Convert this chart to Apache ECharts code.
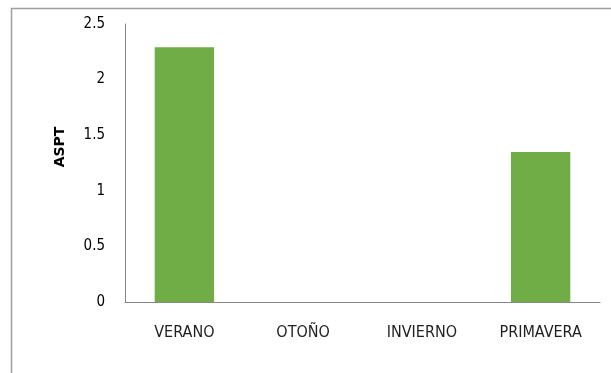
<!DOCTYPE html>
<html>
<head>
<meta charset="utf-8">
<script src="https://cdn.jsdelivr.net/npm/echarts@6/dist/echarts.min.js"></script>
<style>
  html, body { margin: 0; padding: 0; background: #ffffff; }
  #chart { width: 611px; height: 373px; }
</style>
</head>
<body>
<div id="chart"></div>
<script>
// Seasons on the category axis
const seasons = ['VERANO', 'OTOÑO', 'INVIERNO', 'PRIMAVERA'];
// ASPT value per season (autumn and winter have no value)
const asptValues = [2.29, 0, 0, 1.35];
// Value axis range
const yMin = 0;
const yMax = 2.5;
const yStep = 0.5;
const yTitle = 'ASPT';

const chart = echarts.init(document.getElementById('chart'), null, { renderer: 'canvas' });

const labelFont = '"DejaVu Sans Condensed", "DejaVu Sans", sans-serif';

chart.setOption({
  backgroundColor: '#ffffff',
  animation: false,
  graphic: [
    {
      type: 'rect',
      left: 9, top: 6,
      shape: { width: 800, height: 600 },
      style: { fill: 'none', stroke: '#a0a0a0', lineWidth: 1.5 },
      silent: true
    },
    {
      // vertical axis title, rotated to read bottom-to-top
      type: 'text',
      x: 60, y: 147,
      rotation: Math.PI / 2,
      style: {
        text: yTitle,
        fill: '#000000',
        font: 'bold 14px "DejaVu Sans", sans-serif',
        align: 'center',
        verticalAlign: 'middle'
      },
      silent: true
    }
  ],
  grid: { left: 125, right: 11, top: 24, bottom: 71 },
  xAxis: {
    type: 'category',
    data: seasons,
    axisLine: { show: true, lineStyle: { color: '#868686', width: 1 } },
    axisTick: { show: false },
    axisLabel: {
      margin: 23,
      color: '#1f1f1f',
      fontSize: 16,
      fontFamily: labelFont
    },
    splitLine: { show: false }
  },
  yAxis: {
    type: 'value',
    min: yMin,
    max: yMax,
    interval: yStep,
    axisLine: { show: true, lineStyle: { color: '#868686', width: 1 } },
    axisTick: { show: false },
    axisLabel: {
      margin: 20,
      color: '#000000',
      fontSize: 15,
      fontFamily: labelFont
    },
    splitLine: { show: false }
  },
  series: [
    {
      type: 'bar',
      data: asptValues,
      barWidth: '50%',
      itemStyle: { color: '#70ad47' }
    }
  ]
});
</script>
</body>
</html>
